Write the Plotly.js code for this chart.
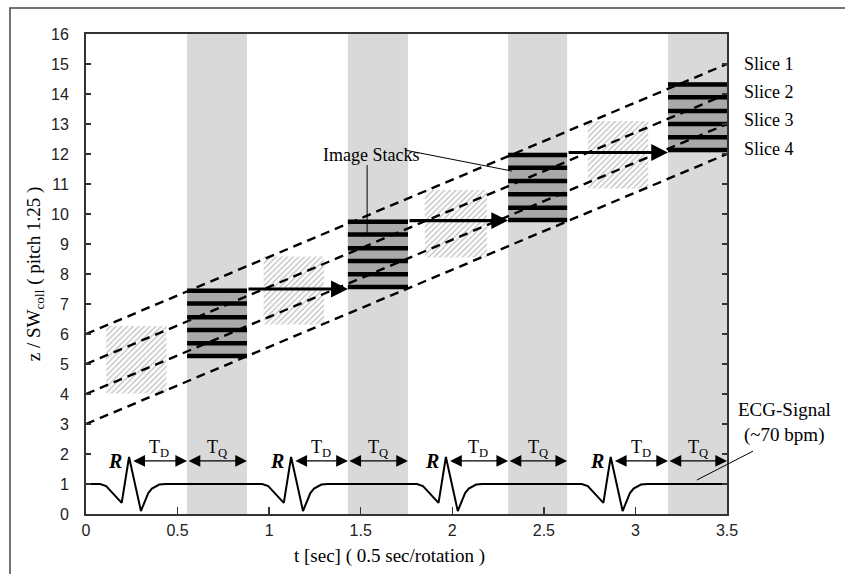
<!DOCTYPE html>
<html><head><meta charset="utf-8">
<script src="https://cdn.plot.ly/plotly-3.0.1.min.js"></script>
<style>body{margin:0;background:#fff}#chart{width:845px;height:574px}</style>
</head><body><div id="chart"></div>
<script>
// ---- data ----
const bandStart = [0.552, 1.430, 2.305, 3.178];
const bandEnd   = [0.879, 1.758, 2.627, 3.500];

const hatchX0 = [0.11, 0.97, 1.85, 2.74];
const hatchX1 = [0.44, 1.30, 2.19, 3.07];
const hatchY0 = [4.02, 6.32, 8.55, 10.85];
const hatchY1 = [6.27, 8.58, 10.80, 13.10];

const stack1 = [7.44, 7.02, 6.56, 6.13, 5.69, 5.27];
const stack2 = [9.74, 9.32, 8.86, 8.43, 7.99, 7.57];
const stack3 = [11.97, 11.54, 11.10, 10.66, 10.21, 9.80];
const stack4 = [14.32, 13.89, 13.43, 13.00, 12.56, 12.13];
const stacks = [stack1, stack2, stack3, stack4];

const sliceStart = [6, 5, 4, 3];
const sliceEnd   = [15, 14, 13, 12];
const sliceNames = ['Slice 1', 'Slice 2', 'Slice 3', 'Slice 4'];
const sliceLabelY = [15.0, 14.07, 13.13, 12.17];

const ecgT = [0, 0.077, 0.11, 0.195, 0.235, 0.30, 0.34, 0.36, 0.40, 0.435,
              0.962, 0.995, 1.08, 1.12, 1.185, 1.225, 1.245, 1.285, 1.32,
              1.807, 1.84, 1.925, 1.965, 2.03, 2.07, 2.09, 2.13, 2.165,
              2.707, 2.74, 2.825, 2.865, 2.93, 2.97, 2.99, 3.03, 3.065, 3.48];
const ecgV = [1.0, 1.0, 0.93, 0.37, 1.9, 0.1, 0.7, 0.85, 0.98, 1.0,
              1.0, 0.93, 0.37, 1.9, 0.1, 0.7, 0.85, 0.98, 1.0,
              1.0, 0.93, 0.37, 1.9, 0.1, 0.7, 0.85, 0.98, 1.0,
              1.0, 0.93, 0.37, 1.9, 0.1, 0.7, 0.85, 0.98, 1.0, 1.0];

const rPeaks = [0.235, 1.12, 1.965, 2.865];
const tdStart = [0.25, 1.135, 1.98, 2.88];
const timeArrowY = 1.77;

const stackArrowX0 = [0.879, 1.758, 2.627];
const stackArrowX1 = [1.430, 2.305, 3.178];
const stackArrowY  = [7.50, 9.78, 12.05];

const xTicks = [0, 0.5, 1, 1.5, 2, 2.5, 3, 3.5];
const xTickText = ['0', '0.5', '1', '1.5', '2', '2.5', '3', '3.5'];
const yTicks = [0,1,2,3,4,5,6,7,8,9,10,11,12,13,14,15,16];

// ---- traces ----
const traces = [];
const mid = (a, b) => a.map((v, i) => (v + b[i]) / 2);
const diff = (a, b) => a.map((v, i) => b[i] - v);

traces.push({type:'bar', x: mid(bandStart, bandEnd), width: diff(bandStart, bandEnd),
  base: bandStart.map(() => 0), y: bandStart.map(() => 16),
  marker:{color:'#d9d9d9', line:{width:0}}, hoverinfo:'skip', showlegend:false});

traces.push({type:'bar', x: mid(hatchX0, hatchX1), width: diff(hatchX0, hatchX1),
  base: hatchY0, y: diff(hatchY0, hatchY1),
  marker:{color:'#ffffff', line:{width:0},
    pattern:{shape:'/', fgcolor:'#c2c2c2', bgcolor:'#ffffff', size:4, solidity:0.35}},
  hoverinfo:'skip', showlegend:false});

const stackBottom = stacks.map(s => Math.min(...s) - 0.07);
const stackTop = stacks.map(s => Math.max(...s) + 0.07);
traces.push({type:'bar', x: mid(bandStart, bandEnd), width: diff(bandStart, bandEnd),
  base: stackBottom, y: diff(stackBottom, stackTop),
  marker:{color:'#a9a9a9', line:{width:0}}, hoverinfo:'skip', showlegend:false});

// dashed slice lines
sliceStart.forEach((s, i) => {
  traces.push({type:'scatter', mode:'lines', x:[0, 3.5], y:[s, sliceEnd[i]],
    line:{color:'#000', width:2.4, dash:'9px,6px'}, hoverinfo:'skip', showlegend:false});
});

// stack lines
const slx = [], sly = [];
stacks.forEach((s, k) => {
  s.forEach(v => { slx.push(bandStart[k], bandEnd[k], null); sly.push(v, v, null); });
});
traces.push({type:'scatter', mode:'lines', x: slx, y: sly,
  line:{color:'#000', width:4.5}, hoverinfo:'skip', showlegend:false});

// ECG
traces.push({type:'scatter', mode:'lines', x: ecgT, y: ecgV,
  line:{color:'#000', width:2}, hoverinfo:'skip', showlegend:false});

// ---- annotations ----
const serif = 'Liberation Serif, Times New Roman, serif';
const ann = [];
stackArrowX0.forEach((x0, i) => {
  ann.push({x: stackArrowX1[i], y: stackArrowY[i], ax: x0, ay: stackArrowY[i],
    xref:'x', yref:'y', axref:'x', ayref:'y', showarrow:true, text:'',
    arrowhead:2, arrowsize:1.05, arrowwidth:3.2, arrowcolor:'#000', standoff:0});
});
rPeaks.forEach((r, i) => {
  ann.push({x: bandStart[i], y: timeArrowY, ax: tdStart[i], ay: timeArrowY,
    xref:'x', yref:'y', axref:'x', ayref:'y', showarrow:true, text:'',
    arrowhead:2, arrowside:'end+start', arrowsize:1.8, arrowwidth:1.3, arrowcolor:'#000'});
  ann.push({x: bandEnd[i], y: timeArrowY, ax: bandStart[i], ay: timeArrowY,
    xref:'x', yref:'y', axref:'x', ayref:'y', showarrow:true, text:'',
    arrowhead:2, arrowside:'end+start', arrowsize:1.8, arrowwidth:1.3, arrowcolor:'#000'});
  ann.push({x: (tdStart[i] + bandStart[i]) / 2, y: 2.2, xref:'x', yref:'y', showarrow:false,
    text:'T<sub>D</sub>', font:{family:serif, size:18, color:'#000'}});
  ann.push({x: (bandStart[i] + bandEnd[i]) / 2, y: 2.2, xref:'x', yref:'y', showarrow:false,
    text:'T<sub>Q</sub>', font:{family:serif, size:18, color:'#000'}});
  ann.push({x: r - 0.075, y: timeArrowY, xref:'x', yref:'y', showarrow:false,
    text:'<b><i>R</i></b>', font:{family:serif, size:20, color:'#000'}});
});
sliceNames.forEach((n, i) => {
  ann.push({x: 1.023, y: sliceLabelY[i], xref:'paper', yref:'y', xanchor:'left', showarrow:false,
    text:n, font:{family:serif, size:18, color:'#000'}});
});
ann.push({x: 1.556, y: 11.97, xref:'x', yref:'y', showarrow:false,
  text:'Image Stacks', font:{family:serif, size:18, color:'#000'}});
ann.push({x: 1.089, y: 0.217, xref:'paper', yref:'paper', xanchor:'center', yanchor:'middle', showarrow:false,
  text:'ECG-Signal', font:{family:serif, size:19, color:'#000'}});
ann.push({x: 1.089, y: 0.165, xref:'paper', yref:'paper', xanchor:'center', yanchor:'middle', showarrow:false,
  text:'(~70 bpm)', font:{family:serif, size:19, color:'#000'}});
// x-axis title, placed as in the reference (slightly left of centre)
ann.push({x: 0.473, y: -0.087, xref:'paper', yref:'paper', xanchor:'center', yanchor:'middle', showarrow:false,
  text:'t [sec] ( 0.5 sec/rotation )', font:{family:serif, size:19, color:'#000'}});

// ---- shapes (leader lines, outer frame) ----
const shapes = [
  {type:'line', xref:'x', yref:'y', x0:1.535, y0:11.63, x1:1.535, y1:9.37, line:{color:'#000', width:1}},
  {type:'line', xref:'x', yref:'y', x0:1.742, y0:12.13, x1:2.327, y1:11.43, line:{color:'#000', width:1}},
  {type:'line', xref:'paper', yref:'paper', x0:0.953, y0:0.0708, x1:1.0406, y1:0.131, line:{color:'#000', width:1}},
  {type:'rect', xref:'paper', yref:'paper', x0:-0.1186, y0:-0.18, x1:1.26, y1:1.054,
   line:{color:'#444', width:1.5}, fillcolor:'rgba(0,0,0,0)'}
];

const layout = {
  width:845, height:574,
  margin:{l:86, r:118, t:34, b:60},
  paper_bgcolor:'#fff', plot_bgcolor:'#fff',
  barmode:'overlay', showlegend:false,
  font:{family:'Liberation Sans, Arial, sans-serif', color:'#222'},
  xaxis:{range:[0, 3.5], tickvals:xTicks, ticktext:xTickText, ticks:'inside', ticklen:7, tickwidth:1.5,
    tickcolor:'#333', showline:true, linecolor:'#333', linewidth:2, mirror:true, showgrid:false, zeroline:false,
    tickfont:{size:16, family:'Liberation Sans, Arial, sans-serif', color:'#222'}, ticklabelstandoff:1},
  yaxis:{range:[0, 16], tickvals:yTicks, ticks:'inside', ticklen:5, tickwidth:1.5,
    tickcolor:'#333', showline:true, linecolor:'#333', linewidth:2, mirror:'ticks', showgrid:false, zeroline:false,
    tickfont:{size:16, family:'Liberation Sans, Arial, sans-serif', color:'#222'}, ticklabelstandoff:12,
    title:{text:'z / SW<sub>coll</sub> ( pitch 1.25 )', font:{family:serif, size:19, color:'#000'}, standoff:5}},
  annotations: ann,
  shapes: shapes
};

Plotly.newPlot('chart', traces, layout, {staticPlot:true, displayModeBar:false});
</script></body></html>
